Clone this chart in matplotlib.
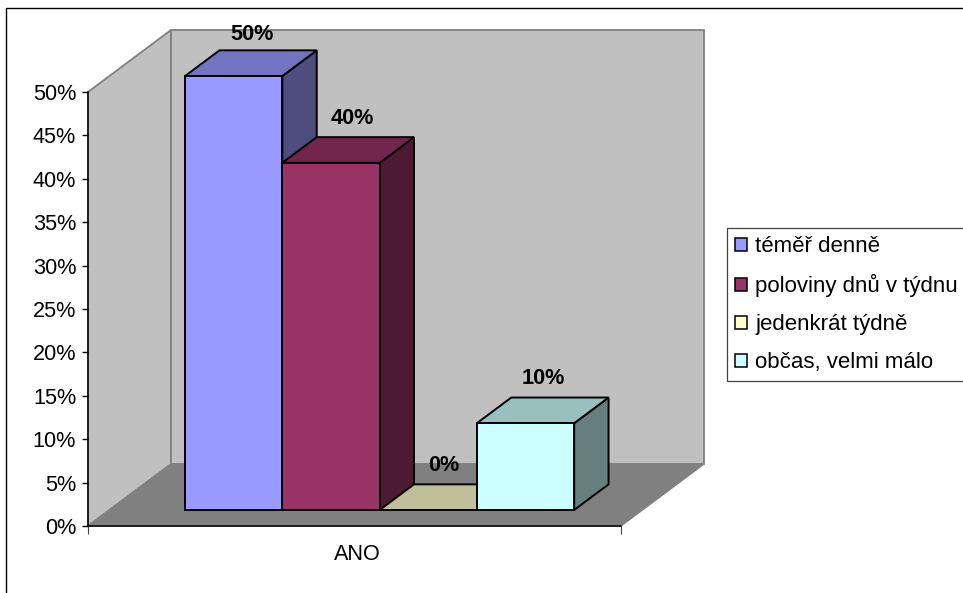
# -*- coding: utf-8 -*-
import matplotlib
matplotlib.use("Agg")
import matplotlib.pyplot as plt
from matplotlib.patches import Patch, Polygon, Rectangle

plt.rcParams['font.family'] = ['Liberation Sans', 'DejaVu Sans']

W, H = 963, 593

series = ['téměř denně', 'poloviny dnů v týdnu', 'jedenkrát týdně', 'občas, velmi málo']
values = [50, 40, 0, 10]
colors = ['#9999FF', '#993366', '#FFFFCC', '#CCFFFF']
category = 'ANO'
y_ticks = [0, 5, 10, 15, 20, 25, 30, 35, 40, 45, 50]


def shade(col, k):
    r, g, b = matplotlib.colors.to_rgb(col)
    return (r * k, g * k, b * k)


fig = plt.figure(figsize=(W / 100, H / 100), dpi=100, facecolor='white')
ax = fig.add_axes([88 / W, 1 - 526 / H, 533 / W, 434 / H])
ax.set_xlim(0, 1)
ax.set_ylim(0, 50)
ax.patch.set_visible(False)

# oblique depth of the box, in data units
depth_x = 83 / 533
depth_y = 62 / 434 * 50


def proj(x, y, d):
    return (x + d * depth_x, y + d * depth_y)


def face(points, fc, ec, lw, z):
    ax.add_patch(Polygon(points, closed=True, facecolor=fc, edgecolor=ec, linewidth=lw,
                         joinstyle='miter', clip_on=False, zorder=z))


# walls and floor
wall = '#C0C0C0'
grey = '#808080'
face([proj(0, 0, 0), proj(0, 50, 0), proj(0, 50, 1), proj(0, 0, 1)], wall, grey, 1.3, 1)
face([proj(0, 0, 1), proj(0, 50, 1), proj(1, 50, 1), proj(1, 0, 1)], wall, grey, 1.3, 1)
face([proj(0, 0, 0), proj(1, 0, 0), proj(1, 0, 1), proj(0, 0, 1)], grey, grey, 1.0, 1.1)

# bars as front, top and side faces
bar_start = 0.142
bar_width = 0.1825
d0, d1 = 0.258, 0.672
# small label shifts in points, the top one is pushed down to stay inside the frame
label_shift = [(0.5, -2.2), (3, 0), (-1, 0), (0.5, 0)]
for i, (v, c) in enumerate(zip(values, colors)):
    x0 = bar_start + i * bar_width
    x1 = x0 + bar_width
    face([proj(x1, 0, d0), proj(x1, 0, d1), proj(x1, v, d1), proj(x1, v, d0)],
         shade(c, 0.5), 'black', 1.4, 3)
    face([proj(x0, v, d0), proj(x1, v, d0), proj(x1, v, d1), proj(x0, v, d1)],
         shade(c, 0.75), 'black', 1.4, 3)
    face([proj(x0, 0, d0), proj(x1, 0, d0), proj(x1, v, d0), proj(x0, v, d0)],
         c, 'black', 1.4, 3)
    # label sits over the middle of the top face
    label_x = proj((x0 + x1) / 2, v, (d0 + d1) / 2)[0]
    label_y = proj(x0, v, d1)[1]
    ax.annotate(f'{v}%', xy=(label_x, label_y),
                xytext=(label_shift[i][0], 13.5 + label_shift[i][1]),
                textcoords='offset points', ha='center', va='center',
                fontsize=15.6, fontweight='bold', annotation_clip=False, zorder=4)

# axes
for s in ('top', 'right'):
    ax.spines[s].set_visible(False)
for s in ('left', 'bottom'):
    ax.spines[s].set_linewidth(1.1)
ax.set_yticks(y_ticks, labels=[f'{t}%' for t in y_ticks])
ax.tick_params(axis='y', length=4.3, width=1.0, pad=4.2, labelsize=15.6)
ax.set_xticks([0, 1], labels=['', ''])
ax.tick_params(axis='x', which='major', length=5.8, width=0.8, color='#404040')
ax.set_xticks([0.505], labels=[category], minor=True)
ax.tick_params(axis='x', which='minor', length=0, pad=13, labelsize=15.6)

# legend runs past the right edge of the canvas
handles = [Patch(facecolor=c, edgecolor='black', linewidth=1.1) for c in colors]
leg = fig.legend(handles, series, loc='upper left', bbox_to_anchor=(727 / W, 1 - 228 / H),
                 borderaxespad=0, fontsize=16, fancybox=False, framealpha=1,
                 edgecolor='#404040', handlelength=0.54, handleheight=0.54,
                 handletextpad=0.36, borderpad=0.37, labelspacing=0.76)
leg.get_frame().set_linewidth(0.9)

# chart area border, open past the canvas on the right and bottom
fig.add_artist(Rectangle((6 / W, -10 / H), 970 / W, (H + 10 - 8) / H, transform=fig.transFigure,
                         fill=False, edgecolor='black', linewidth=1.0))

fig.savefig('out.png', dpi=100)
